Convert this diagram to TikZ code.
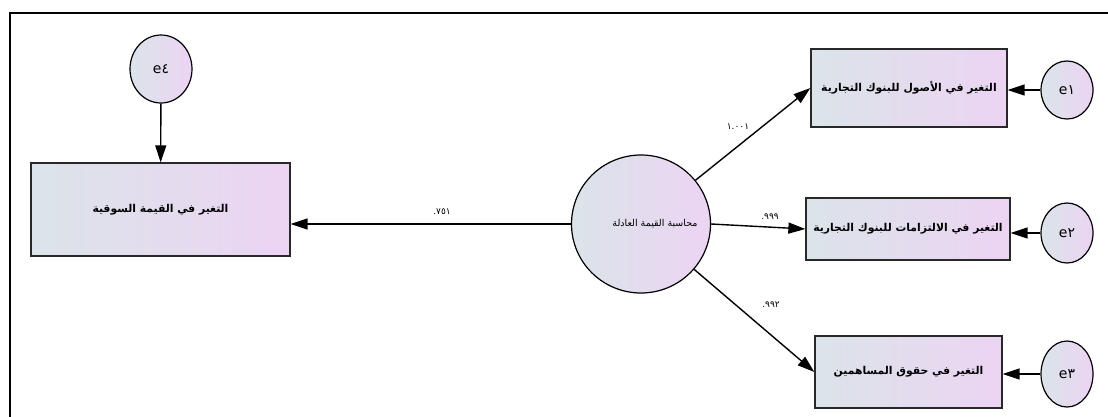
\documentclass[tikz,border=0pt]{standalone}
\usepackage{fontspec}
\TeXXeTstate=1
\newfontfamily\arabicfont[Script=Arabic]{DejaVu Sans}
\newfontfamily\digitfont{DejaVu Sans}
\usetikzlibrary{arrows.meta,shapes.geometric}
\definecolor{shadeL}{RGB}{219,228,233}
\definecolor{shadeR}{RGB}{236,212,243}
\definecolor{edgegrey}{RGB}{40,40,40}

\begin{document}
\begin{tikzpicture}[x=1pt,y=-1pt,
  varbox/.style={draw=edgegrey, line width=1.3pt, left color=shadeL, right color=shadeR,
    inner sep=0pt, font=\arabicfont\bfseries\fontsize{10.8}{12}\selectfont},
  latent/.style={ellipse, draw=black, line width=1.2pt, left color=shadeL, right color=shadeR,
    inner sep=0pt, font=\digitfont\fontsize{14}{16}\selectfont},
  arr/.style={line width=1.4pt, -{Triangle[length=17pt,width=11pt]}},
  coef/.style={font=\digitfont\fontsize{9}{10}\selectfont, inner sep=0pt}]

\useasboundingbox (0,0) rectangle (1108,416);
\fill[white] (0,0) rectangle (1108,416);

% outer frame, open at the right and bottom
\draw[line width=2.4pt] (10,420) -- (10,13) -- (1112,13);

% observed variables
\node[varbox, minimum width=259pt, minimum height=93pt] (market) at (160.5,209.5) {\beginR التغير في القيمة السوقية\endR};
\node[varbox, minimum width=196pt, minimum height=78pt] (assets) at (909,88) {\beginR التغير في الأصول للبنوك التجارية\endR};
\node[varbox, minimum width=204pt, minimum height=62pt] (liab) at (908,229) {\beginR التغير في الالتزامات للبنوك التجارية\endR};
\node[varbox, minimum width=187pt, minimum height=72pt] (equity) at (908.5,372) {\beginR التغير في حقوق المساهمين\endR};

% latent factor
\node[latent, minimum width=139pt, minimum height=138pt] (fv) at (641,224) {};
\node[font=\arabicfont\fontsize{9.5}{11}\selectfont, inner sep=0pt] (fvlabel) at (655,224) {\beginR محاسبة القيمة العادلة\endR};

% error terms
\node[latent, minimum width=62pt, minimum height=68pt] (e4) at (161,69) {e٤};
\node[latent, minimum width=52pt, minimum height=58pt] (e1) at (1067,90) {e١};
\node[latent, minimum width=52pt, minimum height=60pt] (e2) at (1067,233) {e٢};
\node[latent, minimum width=52pt, minimum height=66pt] (e3) at (1067,374) {e٣};

% paths
\draw[arr] (e4) -- (market);
\draw[arr] (fv.west) -- (fv.west -| market.east);
\draw[arr] (fv) -- (assets.west);
\draw[arr] (fv.east) -- (liab.west);
\draw[arr] (fv) -- (equity.west);
\draw[arr] (e1.west) -- (e1.west -| assets.east);
\draw[arr] (e2.west) -- (e2.west -| liab.east);
\draw[arr] (e3.west) -- (e3.west -| equity.east);

% standardized coefficients
\node[coef] (c1) at (442,212) {.٧٥١};
\node[coef] (c2) at (738,127) {١.٠٠١};
\node[coef] (c3) at (770,217) {.٩٩٩};
\node[coef] (c4) at (771,305) {.٩٩٢};
\end{tikzpicture}
\end{document}
